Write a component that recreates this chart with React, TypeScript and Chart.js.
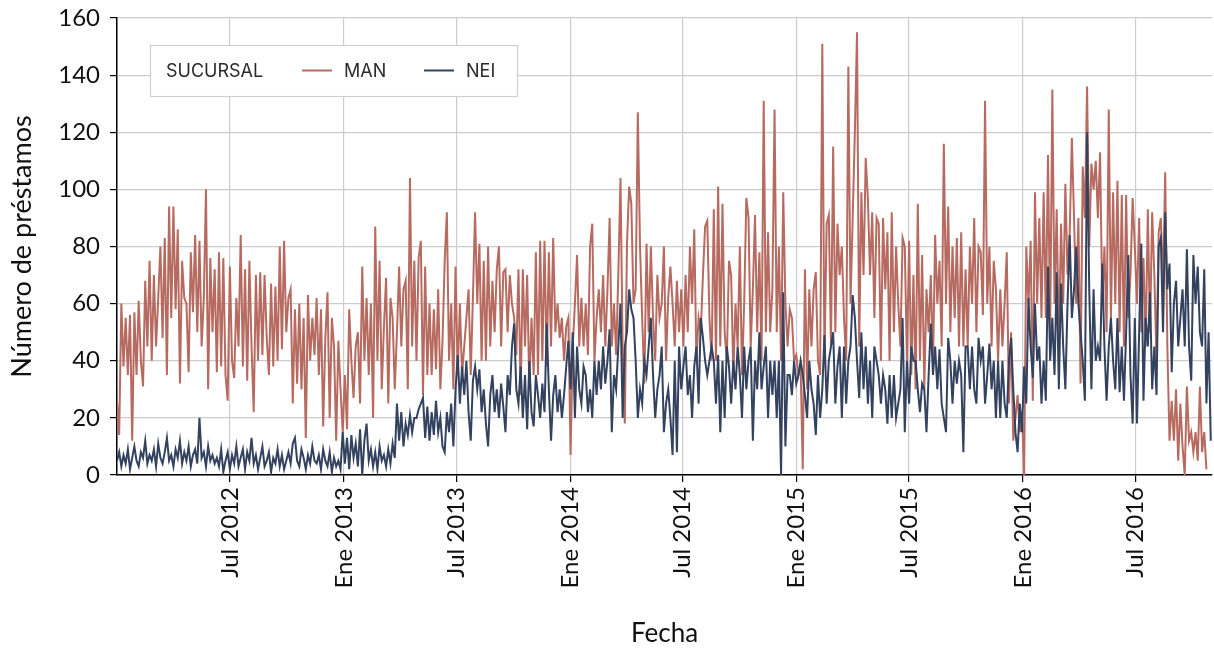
import React, { useEffect, useRef } from "react";
import { Chart, registerables } from "chart.js";

Chart.register(...registerables);

// ---- time axis (days counted from the first observation) ----
const SERIES_START = Date.UTC(2012, 0, 1);
const STEP_DAYS = 3.5;
const AXIS_END_DAYS = 1766;
const DAY_MS = 86400000;

const TICK_LABELS = ["Jul 2012", "Ene 2013", "Jul 2013", "Ene 2014", "Jul 2014", "Ene 2015", "Jul 2015", "Ene 2016", "Jul 2016"];
const TICK_MONTHS: [number, number][] = [[2012, 6], [2013, 0], [2013, 6], [2014, 0], [2014, 6], [2015, 0], [2015, 6], [2016, 0], [2016, 6]];

const Y_TITLE = "Número de préstamos";
const X_TITLE = "Fecha";
const LEGEND_TITLE = "SUCURSAL";
const SERIES_NAMES = ["MAN", "NEI"];

// ---- MAN (loans per 3.5-day step) ----
const man_2012_01 = [26,14,60,38,55,35,56,12,57,35,61,40,31,68,45,75,40,70,45,62,80,48,83,35,94,55,94,58,86,32,75,62,60,36,78,57,84,50,82,45,62,100,30,76,50,72];
const man_2012_06 = [36,78,38,76,35,26,73,40,34,62,45,84,38,72,33,75,45,22,70,40,71,42,70,48,35,67,38,66,40,80,44,82,50,62,65,25,58,32,60,30,55,13,63,40,55,42];
const man_2012_11 = [62,35,58,17,48,64,20,55,45,12,47,30,15,35,16,58,40,27,45,50,25,73,40,62,35,60,20,87,40,75,30,52,69,25,62,55,30,50,73,45,65,68,30,104,45,75];
const man_2013_04 = [40,76,82,28,73,35,60,35,58,37,65,30,47,75,92,40,60,30,73,35,60,35,45,55,65,35,62,92,60,81,40,75,40,80,45,68,50,72,80,45,71,72,50,70,60,55];
const man_2013_09 = [42,72,28,72,45,70,30,55,35,78,35,82,40,82,38,78,45,83,50,60,48,55,40,52,55,7,45,60,77,45,62,45,60,42,80,88,40,55,65,50,70,45,65,90,45,60];
const man_2014_03 = [42,70,104,45,18,81,101,95,60,65,127,80,55,32,81,50,80,55,40,70,55,60,80,40,62,73,60,45,68,50,65,45,70,50,80,60,86,40,55,50,70,87,89,55,40,93];
const man_2014_08 = [40,101,45,95,50,40,75,70,35,60,45,80,35,60,97,90,45,65,91,50,78,40,131,50,85,50,65,128,50,80,40,99,60,45,58,55,40,42,35,38,2,72,30,65,45,65];
const man_2015_01 = [71,40,35,151,40,88,91,45,115,50,88,70,80,55,40,143,60,90,120,155,45,99,70,111,97,70,92,55,90,88,40,90,65,85,40,92,50,80,60,45,83,80,40,82,35,70];
const man_2015_07 = [30,95,40,77,30,65,50,70,38,84,60,75,45,116,60,94,50,80,55,83,45,85,45,72,45,80,60,90,50,80,78,56,131,60,80,45,75,65,40,65,45,60,78,25,50,12];
const man_2015_12 = [20,28,15,22,0,80,60,82,26,99,60,90,55,99,55,112,50,135,60,93,45,88,60,102,70,85,118,90,60,90,32,108,90,136,80,109,100,110,90,113,60,80,50,128,55,99];
const man_2016_05 = [60,103,50,98,45,98,55,70,97,80,60,90,50,76,45,93,50,92,70,40,85,90,65,106,45,12,26,12,30,5,25,10,0,31,12,15,8,15,5,31,8,15,2];

// ---- NEI ----
const nei_2012_01 = [5,8,3,7,4,9,2,6,10,5,3,8,6,12,4,7,5,9,3,11,6,4,8,13,5,7,3,9,6,12,4,8,5,10,3,7,9,4,20,6,8,3,10,5,7,4];
const nei_2012_06 = [6,3,9,1,5,8,2,7,4,10,3,6,9,2,8,5,13,4,7,2,6,10,3,5,8,1,6,4,9,3,7,2,5,8,4,11,13,5,3,9,6,2,7,4,10,5];
const nei_2012_11 = [4,7,2,9,5,3,8,1,6,3,5,2,15,4,13,2,14,6,11,3,16,0,12,18,5,9,3,8,2,10,5,7,3,9,4,11,6,25,12,22,10,18,14,21,15,20];
const nei_2013_04 = [20,23,25,27,13,24,12,22,14,26,15,20,10,8,22,15,25,10,30,42,25,38,28,40,22,12,33,38,30,37,22,30,18,10,28,35,22,30,20,32,24,15,35,28,45,53];
const nei_2013_09 = [30,25,38,20,35,16,40,22,17,35,28,20,32,22,53,30,12,28,35,22,30,20,28,38,47,30,50,20,45,30,25,38,35,22,30,20,40,28,40,30,45,32,40,51,15,35];
const nei_2014_03 = [30,45,60,20,45,50,65,58,55,40,20,30,25,40,35,45,55,35,20,30,35,45,15,25,30,20,7,40,8,45,30,38,45,28,35,20,38,45,25,55,48,40,35,40,45,40];
const nei_2014_08 = [25,42,15,40,20,45,38,25,40,30,45,35,20,45,30,40,45,12,40,30,50,30,38,45,20,40,28,40,20,40,0,64,10,35,35,28,40,32,35,40,35,28,20,40,30,25];
const nei_2015_01 = [14,35,20,30,49,25,40,45,50,25,38,45,20,45,25,40,45,63,55,40,27,50,30,45,25,40,20,45,40,35,25,35,30,18,35,20,35,20,25,30,55,15,40,25,45,40];
const nei_2015_07 = [40,30,22,32,30,15,35,53,35,45,30,44,25,20,15,48,40,25,40,32,40,35,8,45,45,30,45,30,25,48,40,45,25,35,46,30,40,20,40,20,40,25,20,40,48,30];
const nei_2015_12 = [15,8,25,15,38,25,62,45,34,60,40,45,25,40,26,73,40,55,35,71,30,67,45,30,60,84,55,65,80,60,50,40,26,120,65,30,65,40,45,40,74,45,26,45,55,40];
const nei_2016_05 = [30,55,29,45,26,50,77,35,18,55,18,50,81,26,55,45,64,30,45,28,80,83,50,92,65,74,36,60,68,45,55,65,45,79,45,33,77,60,73,50,45,72,25,50,12];

const manValues = [
  ...man_2012_01, ...man_2012_06, ...man_2012_11, ...man_2013_04, ...man_2013_09, ...man_2014_03,
  ...man_2014_08, ...man_2015_01, ...man_2015_07, ...man_2015_12, ...man_2016_05,
];
const neiValues = [
  ...nei_2012_01, ...nei_2012_06, ...nei_2012_11, ...nei_2013_04, ...nei_2013_09, ...nei_2014_03,
  ...nei_2014_08, ...nei_2015_01, ...nei_2015_07, ...nei_2015_12, ...nei_2016_05,
];

const MAN_COLOR = "#b76b60";
const NEI_COLOR = "#33425f";
const FONT = "Lato, 'DejaVu Sans', sans-serif";
const LEGEND_FONT = "Inter, 'Noto Sans', sans-serif";

const toPoints = (vals: number[]) => vals.map((y, i) => ({ x: i * STEP_DAYS, y }));
const tickDays = TICK_MONTHS.map(([yy, mm]) => (Date.UTC(yy, mm, 1) - SERIES_START) / DAY_MS);

const insideLegend = {
  id: "insideLegend",
  afterDraw(chart: any) {
    const { ctx, chartArea } = chart;
    const x0 = chartArea.left + 33;
    const y0 = chartArea.top + 27;
    const w = 367;
    const h = 51;
    const cy = y0 + h / 2;
    ctx.save();
    ctx.fillStyle = "#ffffff";
    ctx.fillRect(x0, y0, w, h);
    ctx.strokeStyle = "#cfcfcf";
    ctx.lineWidth = 1.2;
    ctx.strokeRect(x0 + 0.5, y0 + 0.5, w, h);
    ctx.font = `18px ${LEGEND_FONT}`;
    ctx.fillStyle = "#2a2a2a";
    ctx.textBaseline = "middle";
    ctx.textAlign = "left";
    ctx.fillText(LEGEND_TITLE, x0 + 16, cy + 1);
    const itemStarts = [152, 274];
    chart.data.datasets.forEach((ds: any, k: number) => {
      const lx = x0 + itemStarts[k];
      ctx.strokeStyle = ds.borderColor;
      ctx.lineWidth = 2;
      ctx.beginPath();
      ctx.moveTo(lx, cy);
      ctx.lineTo(lx + 30, cy);
      ctx.stroke();
      ctx.fillStyle = "#2a2a2a";
      ctx.fillText(ds.label, lx + 42, cy + 1);
    });
    ctx.restore();
  },
};

export default function App() {
  const canvasRef = useRef<HTMLCanvasElement | null>(null);

  useEffect(() => {
    if (!canvasRef.current) return;
    const chart = new Chart(canvasRef.current, {
      type: "line",
      data: {
        datasets: [
          {
            label: SERIES_NAMES[0],
            data: toPoints(manValues),
            borderColor: MAN_COLOR,
            backgroundColor: MAN_COLOR,
            borderWidth: 2,
            pointRadius: 0,
            tension: 0,
            order: 1,
          },
          {
            label: SERIES_NAMES[1],
            data: toPoints(neiValues),
            borderColor: NEI_COLOR,
            backgroundColor: NEI_COLOR,
            borderWidth: 2,
            pointRadius: 0,
            tension: 0,
            order: 0,
          },
        ],
      },
      options: {
        animation: false,
        responsive: true,
        maintainAspectRatio: false,
        layout: { padding: { left: 0, right: 2, top: 18, bottom: 0 } },
        plugins: { legend: { display: false }, tooltip: { enabled: false } },
        scales: {
          x: {
            type: "linear",
            min: 0,
            max: AXIS_END_DAYS,
            afterBuildTicks: (scale: any) => {
              scale.ticks = tickDays.map((v) => ({ value: v }));
            },
            afterFit: (scale: any) => {
              scale.height = 176;
              scale.paddingLeft = 0;
              scale.paddingRight = 0;
            },
            ticks: {
              autoSkip: false,
              maxRotation: 90,
              minRotation: 90,
              padding: 5,
              color: "#111111",
              font: { family: FONT, size: 24 },
              callback: (_v: any, index: number) => TICK_LABELS[index] ?? "",
            },
            grid: { color: "#cccccc", lineWidth: 1.2, tickColor: "#000000", tickLength: 7 },
            border: { color: "#000000", width: 1.5 },
            title: {
              display: true,
              text: X_TITLE,
              color: "#111111",
              font: { family: FONT, size: 26 },
              padding: { top: 0, bottom: 2 },
            },
          },
          y: {
            min: 0,
            max: 160,
            afterFit: (scale: any) => {
              scale.width = 117;
              scale.paddingTop = 0;
              scale.paddingBottom = 0;
            },
            ticks: {
              stepSize: 20,
              padding: 10,
              color: "#111111",
              font: { family: FONT, size: 24 },
            },
            grid: { color: "#cccccc", lineWidth: 1.2, tickColor: "#000000", tickLength: 7 },
            border: { color: "#000000", width: 1.5 },
            title: {
              display: true,
              text: Y_TITLE,
              color: "#111111",
              font: { family: FONT, size: 27 },
              padding: { top: 6, bottom: 0 },
            },
          },
        },
      },
      plugins: [insideLegend],
    } as any);
    return () => chart.destroy();
  }, []);

  return (
    <div style={{ position: "absolute", left: 0, top: 0, width: 1214, height: 651, background: "#ffffff" }}>
      <canvas ref={canvasRef} />
    </div>
  );
}
